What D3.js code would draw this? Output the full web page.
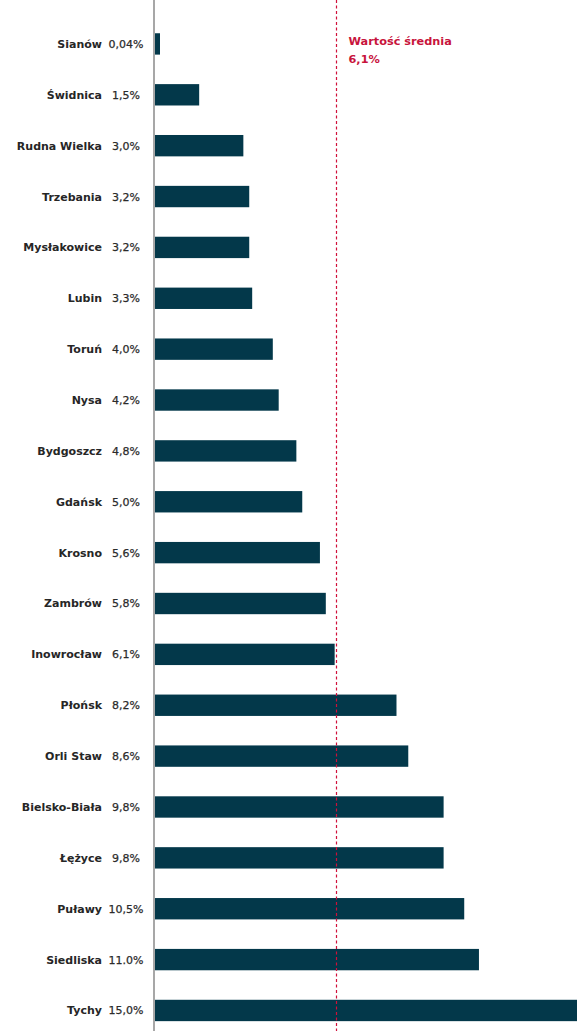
<!DOCTYPE html>
<html lang="pl">
<head>
  <meta charset="UTF-8">
  <title>Wartość średnia</title>
  <script src="https://cdn.jsdelivr.net/npm/d3@7/dist/d3.min.js"></script>
  <style>
    body { margin: 0; background: #fff; }
    svg { display: block; font-family: "DejaVu Sans", Verdana, sans-serif; }
  </style>
</head>
<body>
  <svg class="svg"></svg>
  <script>
    const cities = ['Sianów', 'Świdnica', 'Rudna Wielka', 'Trzebania', 'Mysłakowice', 'Lubin', 'Toruń', 'Nysa',
      'Bydgoszcz', 'Gdańsk', 'Krosno', 'Zambrów', 'Inowrocław', 'Płońsk', 'Orli Staw', 'Bielsko-Biała',
      'Łężyce', 'Puławy', 'Siedliska', 'Tychy'];
    const values = [0.04, 1.5, 3.0, 3.2, 3.2, 3.3, 4.0, 4.2, 4.8, 5.0, 5.6, 5.8, 6.1, 8.2, 8.6, 9.8, 9.8, 10.5, 11.0, 15.0];
    const valueLabels = ['0,04%', '1,5%', '3,0%', '3,2%', '3,2%', '3,3%', '4,0%', '4,2%', '4,8%', '5,0%', '5,6%', '5,8%',
      '6,1%', '8,2%', '8,6%', '9,8%', '9,8%', '10,5%', '11.0%', '15,0%'];
    const average = 6.1;
    const averageLabel = ['Wartość średnia', '6,1%'];

    const w = 577;
    const h = 1031;
    const left = 155;

    const data = cities.map((c, i) => ({ city: c, value: values[i], label: valueLabels[i] }));

    const xScale = d3.scaleLinear()
      .domain([0, 15])
      .range([left, left + 15 * 29.45]);

    const yScale = d3.scaleBand()
      .domain(cities)
      .range([18.5, 1035.9])
      .paddingInner(0.58)
      .paddingOuter(0.29);

    const svg = d3.select('.svg')
      .attr('width', w)
      .attr('height', h);

    // bars
    svg.selectAll('rect.bar')
      .data(data)
      .enter()
      .append('rect')
      .attr('class', 'bar')
      .attr('x', xScale(0))
      .attr('y', d => yScale(d.city))
      .attr('width', d => Math.max(xScale(d.value) - xScale(0), 5))
      .attr('height', yScale.bandwidth())
      .attr('fill', '#03384a');

    // axis line
    svg.append('line')
      .attr('x1', xScale(0) - 1).attr('x2', xScale(0) - 1)
      .attr('y1', 0).attr('y2', h)
      .attr('stroke', '#8a8a8a')
      .attr('stroke-width', 1.5);

    // city names
    svg.selectAll('text.city')
      .data(data)
      .enter()
      .append('text')
      .attr('class', 'city')
      .attr('x', 102)
      .attr('y', d => yScale(d.city) + yScale.bandwidth() / 2)
      .attr('dy', '0.36em')
      .attr('text-anchor', 'end')
      .attr('font-size', 11)
      .attr('font-weight', 'bold')
      .attr('fill', '#262626')
      .text(d => d.city);

    // values
    svg.selectAll('text.val')
      .data(data)
      .enter()
      .append('text')
      .attr('class', 'val')
      .attr('x', 126)
      .attr('y', d => yScale(d.city) + yScale.bandwidth() / 2)
      .attr('dy', '0.36em')
      .attr('text-anchor', 'middle')
      .attr('font-size', 11)
      .attr('fill', '#2b2b2b')
      .attr('stroke', '#2b2b2b')
      .attr('stroke-width', 0.25)
      .text(d => d.label);

    // average line (snapped to the pixel grid so the red stays crisp)
    const avgX = Math.round(xScale(average)) + 1.5;
    svg.append('line')
      .attr('x1', avgX).attr('x2', avgX)
      .attr('y1', 0).attr('y2', h)
      .attr('stroke', '#d0103a')
      .attr('stroke-width', 1.2)
      .attr('stroke-dasharray', '3,2.5');

    svg.selectAll('text.avg')
      .data(averageLabel)
      .enter()
      .append('text')
      .attr('class', 'avg')
      .attr('x', avgX + 12)
      .attr('y', (d, i) => 45 + i * 17.5)
      .attr('font-size', 11.3)
      .attr('font-weight', 'bold')
      .attr('fill', '#c8143c')
      .text(d => d);
  </script>
</body>
</html>
